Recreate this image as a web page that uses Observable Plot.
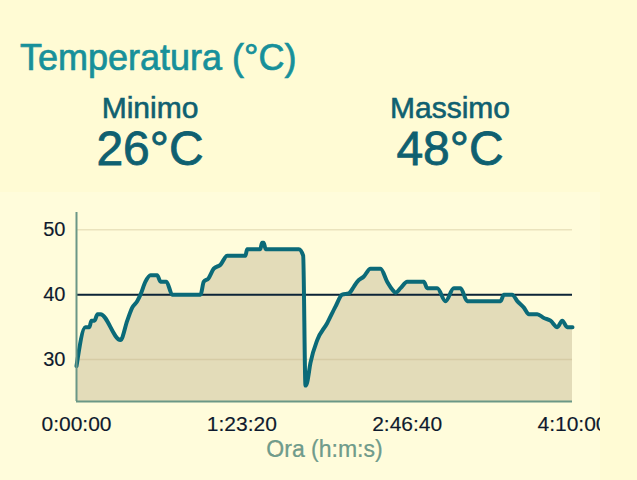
<!DOCTYPE html>
<html><head><meta charset="utf-8">
<script src="https://cdn.jsdelivr.net/npm/d3@7"></script>
<script src="https://cdn.jsdelivr.net/npm/@observablehq/plot@0.6"></script>
<style>
html,body{margin:0;padding:0}
body{background:#fffbd4;width:637px;height:480px;overflow:hidden;position:relative;font-family:"Liberation Sans",Arial,sans-serif}
#head{position:absolute;left:0;top:0}
#chart{position:absolute;left:0;top:192px;width:600px;height:288px;overflow:hidden;background:#fffcdb}
#chart svg{overflow:hidden}
#chart svg text{paint-order:stroke;stroke-width:0.15px;stroke:currentColor}
</style></head><body>
<svg id="head" width="637" height="192"></svg>
<div id="chart"></div>
<script>
// time in seconds since start
const times = [0, 270, 390, 450, 545, 635, 725, 1330, 1535, 1685,
  1835, 1935, 2085, 2240, 2440, 2540, 2720, 2895, 3750, 3850,
  3990, 4150, 4355, 4555, 5110, 5160, 5560, 5610, 5660, 5720, 6725,
  6855, 6925, 6970, 7075, 7280, 7580, 7835, 8035, 8235, 8385,
  8490, 8690, 8890, 9195, 9395, 9550, 9650, 9800, 10000, 10505,
  10605, 10910, 11160, 11410, 11615, 11815, 12825, 12925, 13175, 13330,
  13530, 13680, 13935, 14135, 14335, 14540, 14690, 14840, 15000];
// temperature °C
const temps = [29, 35, 35, 36, 36, 37, 37, 33, 36, 38,
  39, 40, 42, 43, 43, 42, 42, 40, 40, 42,
  42.5, 44, 44.6, 46, 46, 47, 47, 48, 48, 47, 47,
  46, 26, 26.4, 29.5, 33, 35.6, 38.2, 40, 40.2, 41.2,
  42, 42.8, 44, 44, 42, 40.8, 40.3, 41, 42, 42,
  41, 41, 39, 41, 41, 39, 39, 40, 40, 39,
  38, 37, 37, 36.4, 36, 35, 36, 35, 35];
const xTicks = [0, 5000, 10000, 15000];
const yTicks = [30, 40, 50];
const gridValues = [30, 40, 50];
const refLine = [40];
const xDomain = [0, 15000];
const yDomain = [23.55, 52.65];
const titleText = "Temperatura (°C)";
const minLabel = "Minimo";
const maxLabel = "Massimo";
const xLabel = "Ora (h:m:s)";

const data = times.map((t, i) => ({t, v: temps[i]}));
const minV = Math.round(d3.min(temps));
const maxV = Math.round(d3.max(temps));

const head = d3.select("#head");
function addText(x, y, size, anchor, color, sw, txt) {
  head.append("text").attr("x", x).attr("y", y).attr("font-size", size)
    .attr("text-anchor", anchor).attr("fill", color)
    .attr("stroke", color).attr("stroke-width", sw).attr("paint-order", "stroke")
    .text(txt);
}
addText(20, 70, 36, "start", "#17909a", 0.7, titleText);
addText(150, 118, 30, "middle", "#0f6070", 0.6, minLabel);
addText(450, 118, 30, "middle", "#0f6070", 0.6, maxLabel);
addText(150, 165, 48, "middle", "#0f6070", 0.8, minV + "°C");
addText(450, 165, 48, "middle", "#0f6070", 0.8, maxV + "°C");

const fmt = s => {
  const h = Math.floor(s / 3600), m = Math.floor((s % 3600) / 60), sec = Math.round(s % 60);
  return `${h}:${String(m).padStart(2, "0")}:${String(sec).padStart(2, "0")}`;
};

const chart = Plot.plot({
  width: 600, height: 288,
  marginTop: 20, marginLeft: 76, marginRight: 28, marginBottom: 79,
  style: {background: "transparent", fontFamily: "Liberation Sans, Arial, sans-serif", fontSize: "20px"},
  x: {domain: xDomain},
  y: {domain: yDomain},
  marks: [
    Plot.areaY(data, {x: "t", y1: yDomain[0], y2: "v", fill: "#e3dcb9", curve: "monotone-x"}),
    Plot.ruleY(gridValues, {stroke: "#b8a878", strokeOpacity: 0.3, strokeWidth: 1.5}),
    Plot.ruleY(refLine, {stroke: "#0c2438", strokeWidth: 2}),
    Plot.line(data, {x: "t", y: "v", stroke: "#0b6a78", strokeWidth: 4, strokeLinejoin: "round", strokeLinecap: "round", curve: "monotone-x"}),
    Plot.ruleX([xDomain[0]], {stroke: "#6b9786", strokeWidth: 2}),
    Plot.ruleY([yDomain[0]], {stroke: "#6b9786", strokeWidth: 2}),
    Plot.axisX({ticks: xTicks, tickSize: 0, tickPadding: 15, tickFormat: fmt, fontSize: 21, fill: "#0e1a2e", label: null}),
    Plot.axisY({ticks: yTicks, tickSize: 0, tickPadding: 11, fontSize: 20, fill: "#0e1a2e", label: null}),
    Plot.text([xLabel], {frameAnchor: "bottom", dy: 55, fontSize: 23, fill: "#6d9c8c", text: d => d})
  ]
});
document.getElementById("chart").appendChild(chart);
</script>
</body></html>
